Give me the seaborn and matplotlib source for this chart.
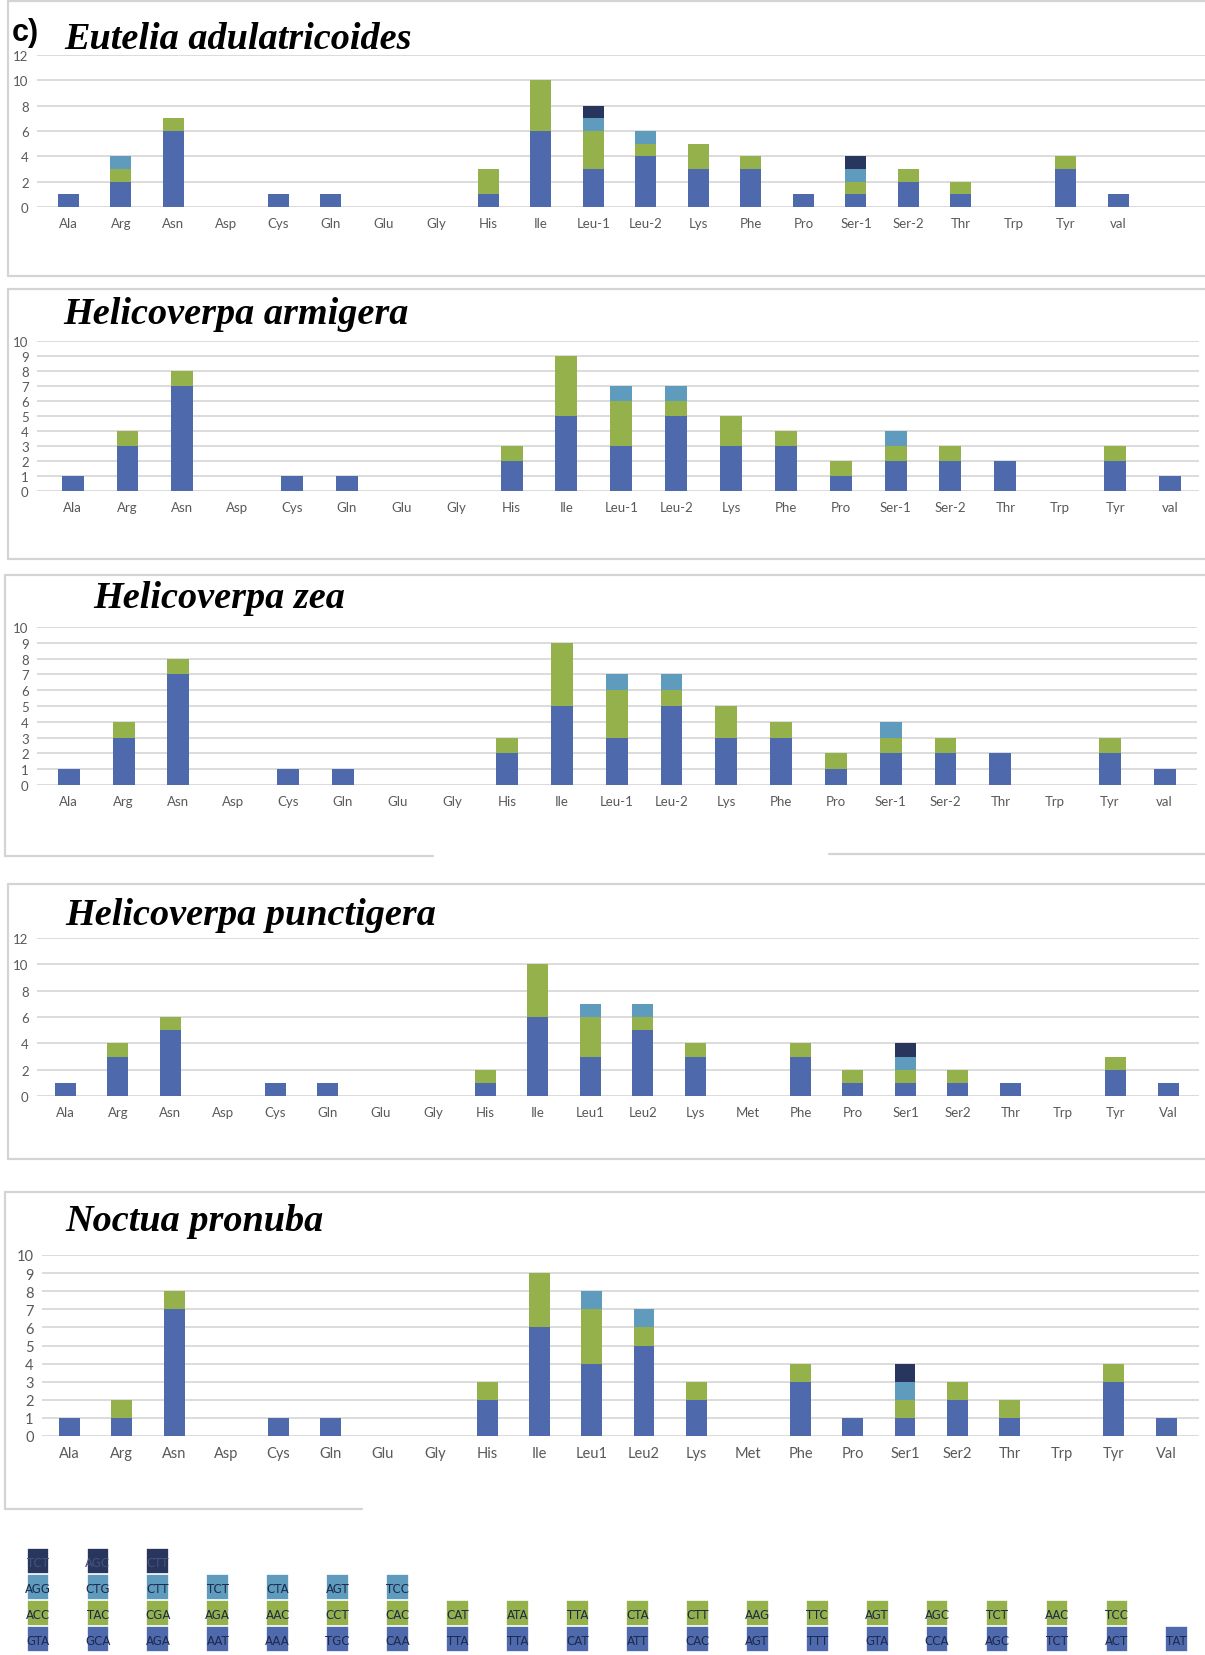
import numpy as np
import pandas as pd
import matplotlib
matplotlib.use("Agg")
import matplotlib.pyplot as plt
from matplotlib.lines import Line2D
import seaborn as sns

sns.set_theme(style="white")
plt.rcParams['font.family'] = ['Lato', 'DejaVu Sans']

W, H = 1205, 1656

BLUE = "#4F69AD"
GREEN = "#95B14B"
LIGHT = "#5E9BBD"
DARK = "#28355C"
GRID = "#D9D9D9"
LABEL = "#595959"
FRAME = "#D4D4D4"

# Amino-acid categories (two naming schemes)
aa_a = ["Ala", "Arg", "Asn", "Asp", "Cys", "Gln", "Glu", "Gly", "His", "Ile",
        "Leu-1", "Leu-2", "Lys", "Phe", "Pro", "Ser-1", "Ser-2", "Thr", "Trp",
        "Tyr", "val"]
aa_b = ["Ala", "Arg", "Asn", "Asp", "Cys", "Gln", "Glu", "Gly", "His", "Ile",
        "Leu1", "Leu2", "Lys", "Met", "Phe", "Pro", "Ser1", "Ser2", "Thr", "Trp",
        "Tyr", "Val"]

# Eutelia adulatricoides: codon counts per stacking level
eut_1 = [1, 2, 6, 0, 1, 1, 0, 0, 1, 6, 3, 4, 3, 3, 1, 1, 2, 1, 0, 3, 1]
eut_2 = [0, 1, 1, 0, 0, 0, 0, 0, 2, 4, 3, 1, 2, 1, 0, 1, 1, 1, 0, 1, 0]
eut_3 = [0, 1, 0, 0, 0, 0, 0, 0, 0, 0, 1, 1, 0, 0, 0, 1, 0, 0, 0, 0, 0]
eut_4 = [0, 0, 0, 0, 0, 0, 0, 0, 0, 0, 1, 0, 0, 0, 0, 1, 0, 0, 0, 0, 0]

# Helicoverpa armigera
arm_1 = [1, 3, 7, 0, 1, 1, 0, 0, 2, 5, 3, 5, 3, 3, 1, 2, 2, 2, 0, 2, 1]
arm_2 = [0, 1, 1, 0, 0, 0, 0, 0, 1, 4, 3, 1, 2, 1, 1, 1, 1, 0, 0, 1, 0]
arm_3 = [0, 0, 0, 0, 0, 0, 0, 0, 0, 0, 1, 1, 0, 0, 0, 1, 0, 0, 0, 0, 0]
arm_4 = [0, 0, 0, 0, 0, 0, 0, 0, 0, 0, 0, 0, 0, 0, 0, 0, 0, 0, 0, 0, 0]

# Helicoverpa zea
zea_1 = [1, 3, 7, 0, 1, 1, 0, 0, 2, 5, 3, 5, 3, 3, 1, 2, 2, 2, 0, 2, 1]
zea_2 = [0, 1, 1, 0, 0, 0, 0, 0, 1, 4, 3, 1, 2, 1, 1, 1, 1, 0, 0, 1, 0]
zea_3 = [0, 0, 0, 0, 0, 0, 0, 0, 0, 0, 1, 1, 0, 0, 0, 1, 0, 0, 0, 0, 0]
zea_4 = [0, 0, 0, 0, 0, 0, 0, 0, 0, 0, 0, 0, 0, 0, 0, 0, 0, 0, 0, 0, 0]

# Helicoverpa punctigera
pun_1 = [1, 3, 5, 0, 1, 1, 0, 0, 1, 6, 3, 5, 3, 0, 3, 1, 1, 1, 1, 0, 2, 1]
pun_2 = [0, 1, 1, 0, 0, 0, 0, 0, 1, 4, 3, 1, 1, 0, 1, 1, 1, 1, 0, 0, 1, 0]
pun_3 = [0, 0, 0, 0, 0, 0, 0, 0, 0, 0, 1, 1, 0, 0, 0, 0, 1, 0, 0, 0, 0, 0]
pun_4 = [0, 0, 0, 0, 0, 0, 0, 0, 0, 0, 0, 0, 0, 0, 0, 0, 1, 0, 0, 0, 0, 0]

# Noctua pronuba
noc_1 = [1, 1, 7, 0, 1, 1, 0, 0, 2, 6, 4, 5, 2, 0, 3, 1, 1, 2, 1, 0, 3, 1]
noc_2 = [0, 1, 1, 0, 0, 0, 0, 0, 1, 3, 3, 1, 1, 0, 1, 0, 1, 1, 1, 0, 1, 0]
noc_3 = [0, 0, 0, 0, 0, 0, 0, 0, 0, 0, 1, 1, 0, 0, 0, 0, 1, 0, 0, 0, 0, 0]
noc_4 = [0, 0, 0, 0, 0, 0, 0, 0, 0, 0, 0, 0, 0, 0, 0, 0, 1, 0, 0, 0, 0, 0]

# Codon key: one column per stack, levels from bottom to top
codon_1 = ["GTA", "GCA", "AGA", "AAT", "AAA", "TGC", "CAA", "TTA", "TTA", "CAT",
           "ATT", "CAC", "AGT", "TTT", "GTA", "CCA", "AGC", "TCT", "ACT", "TAT"]
codon_2 = ["ACC", "TAC", "CGA", "AGA", "AAC", "CCT", "CAC", "CAT", "ATA", "TTA",
           "CTA", "CTT", "AAG", "TTC", "AGT", "AGC", "TCT", "AAC", "TCC", ""]
codon_3 = ["AGG", "CTG", "CTT", "TCT", "CTA", "AGT", "TCC", "", "", "",
           "", "", "", "", "", "", "", "", "", ""]
codon_4 = ["TCT", "AGC", "CTT", "", "", "", "", "", "", "",
           "", "", "", "", "", "", "", "", "", ""]

LEVEL_COLORS = [BLUE, GREEN, LIGHT, DARK]

fig = plt.figure(figsize=(W / 100, H / 100), dpi=100)
fig.patch.set_facecolor("white")


def px_rect(x0, y_top, x1, y_bot):
    return [x0 / W, 1 - y_bot / H, (x1 - x0) / W, (y_bot - y_top) / H]


def fline(xs, ys):
    fig.add_artist(Line2D([x / W for x in xs], [1 - y / H for y in ys],
                          transform=fig.transFigure, color=FRAME, lw=1.6))


def frame(x0, y0, x1, y1):
    fline([x0, x1], [y0, y0])
    fline([x0, x0], [y0, y1])
    fline([x0, x1], [y1, y1])


def panel(box, cats, layers, ymax, ystep, xlim, title, tx, ty, lsize=9.5):
    ax = fig.add_axes(px_rect(*box))
    cum = np.cumsum(np.array(layers), axis=0)
    for k in range(len(layers) - 1, -1, -1):
        df = pd.DataFrame({"aa": cats, "n": cum[k]})
        sns.barplot(data=df, x="aa", y="n", order=cats, color=LEVEL_COLORS[k],
                    saturation=1, width=0.4, errorbar=None, linewidth=0,
                    ax=ax)
    ax.set_xlim(*xlim)
    ax.set_ylim(0, ymax)
    ax.set_yticks(np.arange(0, ymax + 0.01, ystep))
    ax.yaxis.grid(True, color=GRID, lw=1.3)
    ax.xaxis.grid(False)
    ax.set_axisbelow(True)
    for s in ax.spines.values():
        s.set_visible(False)
    ax.set_xlabel("")
    ax.set_ylabel("")
    ax.tick_params(axis="y", length=0, pad=6, labelsize=lsize, labelcolor=LABEL)
    ax.tick_params(axis="x", length=0, pad=7, labelsize=lsize, labelcolor=LABEL)
    ax.patch.set_alpha(0)
    fig.text(tx / W, 1 - ty / H, title, family="Liberation Serif",
             style="italic", weight="bold", size=27.5, ha="left",
             va="baseline", color="black")
    return ax


# Panel frames
frame(8, 2, 1215, 277)
frame(8, 290, 1215, 560)
fline([5, 1215], [576, 576])
fline([5, 5], [576, 857])
fline([5, 433], [857, 857])
fline([829, 1215], [855, 855])
frame(8, 885, 1215, 1160)
fline([5, 1215], [1193, 1193])
fline([5, 5], [1193, 1510])
fline([5, 362], [1510, 1510])

fig.text(12 / W, 1 - 41 / H, "c)", family="Liberation Sans", weight="bold",
         size=22, ha="left", va="baseline", color="black")

panel((37, 56, 1205, 208), aa_a, [eut_1, eut_2, eut_3, eut_4], 12, 2,
      (-0.60, 21.65), "Eutelia adulatricoides", 64, 49)
panel((37, 342, 1199, 492), aa_a, [arm_1, arm_2, arm_3, arm_4], 10, 1,
      (-0.65, 20.53), "Helicoverpa armigera", 63, 324)
panel((37, 628, 1197, 786), aa_a, [zea_1, zea_2, zea_3, zea_4], 10, 1,
      (-0.58, 20.59), "Helicoverpa zea", 93, 608)
panel((37, 939, 1199, 1097), aa_b, [pun_1, pun_2, pun_3, pun_4], 12, 2,
      (-0.54, 21.59), "Helicoverpa punctigera", 65, 925)
panel((42, 1256, 1199, 1437), aa_b, [noc_1, noc_2, noc_3, noc_4], 10, 1,
      (-0.53, 21.63), "Noctua pronuba", 65, 1231, lsize=10.5)

# Codon key strip
key = fig.add_axes(px_rect(0, 1549, W, 1653))
levels = [codon_1, codon_2, codon_3, codon_4]
present = np.array([[1 if c else 0 for c in lev] for lev in levels])
cum = np.cumsum(present, axis=0)
cols = [str(i) for i in range(len(codon_1))]
for k in range(3, -1, -1):
    h = np.where(present[k] > 0, cum[k], 0)
    df = pd.DataFrame({"col": cols, "n": h})
    sns.barplot(data=df, x="col", y="n", order=cols, color=LEVEL_COLORS[k],
                saturation=1, width=0.38, errorbar=None, edgecolor="white",
                linewidth=1.2, ax=key)
for k, lev in enumerate(levels):
    for i, c in enumerate(lev):
        if c:
            key.text(i, k + 0.45, c, ha="center", va="center",
                     family=["Liberation Sans Narrow", "DejaVu Sans"],
                     size=8.5,
                     color="#46527A" if k == 3 else "#1E2A4C")
key.set_xlim(-0.634, 19.47)
key.set_ylim(0, 4)
key.axis("off")

fig.savefig("out.png", dpi=100, facecolor="white")
